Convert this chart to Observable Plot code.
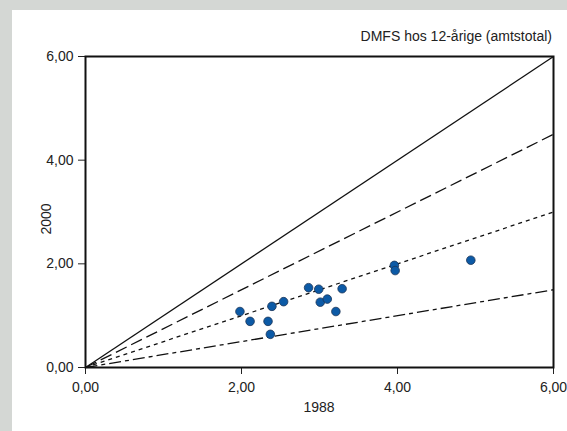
<!DOCTYPE html>
<html>
<head>
<meta charset="utf-8">
<script src="https://cdn.jsdelivr.net/npm/d3@7"></script>
<script src="https://cdn.jsdelivr.net/npm/@observablehq/plot@0.6"></script>
<style>
  html, body { margin: 0; padding: 0; }
  body { width: 567px; height: 431px; background: #d4d7d4; position: relative; overflow: hidden;
         font-family: "Liberation Sans", Arial, sans-serif; }
  #panel { position: absolute; left: 12px; top: 10px; width: 555px; height: 421px; background: #fff; }
  #chart { position: absolute; left: 0; top: 0; }
  .lbl { position: absolute; font-size: 14px; color: #222; white-space: nowrap; line-height: 16px; }
  #title { right: 15px; top: 18px; }
  #xlab { left: 0; width: 614px; text-align: center; top: 389px; }
  #ylab { left: 18px; top: 201px; transform: rotate(-90deg); transform-origin: center; }
</style>
</head>
<body>
<div id="panel">
  <div id="chart"></div>
  <div class="lbl" id="title">DMFS hos 12-årige (amtstotal)</div>
  <div class="lbl" id="xlab">1988</div>
  <div class="lbl" id="ylab">2000</div>
</div>
<script>
// Data (x = 1988, y = 2000)
const x1988 = [1.98, 2.11, 2.34, 2.37, 2.39, 2.54, 2.86, 2.99, 3.01, 3.10, 3.21, 3.29, 3.96, 3.97, 4.94];
const y2000 = [1.08, 0.89, 0.89, 0.64, 1.18, 1.27, 1.54, 1.51, 1.26, 1.32, 1.08, 1.52, 1.97, 1.87, 2.07];
// Reference lines through origin: y = slope * x
const slopes = [1, 0.75, 0.5, 0.25];
const dashes = [null, "12,5", "4,4", "12,4,4,4"];
const tickValues = [0, 2, 4, 6];
const domainMax = 6;

const points = x1988.map((x, i) => ({x, y: y2000[i]}));
const refLines = slopes.map((s, i) => ({x1: 0, y1: 0, x2: domainMax, y2: domainMax * s, dash: dashes[i]}));
const fmt = d => d.toFixed(2).replace(".", ",");

const chart = Plot.plot({
  width: 555,
  height: 421,
  marginLeft: 73,
  marginRight: 14,
  marginTop: 46,
  marginBottom: 64,
  style: {fontFamily: "Liberation Sans, Arial, sans-serif", fontSize: "14px", color: "#222", background: "transparent"},
  x: {domain: [0, domainMax], ticks: tickValues, tickFormat: fmt, label: null},
  y: {domain: [0, domainMax], ticks: tickValues, tickFormat: fmt, label: null},
  marks: [
    Plot.axisX({ticks: tickValues, tickFormat: fmt, tickSize: 7, tickPadding: 8, label: null, fontSize: 14}),
    Plot.axisY({ticks: tickValues, tickFormat: fmt, tickSize: 7, tickPadding: 5, label: null, fontSize: 14}),
    ...refLines.map(l => Plot.link([l], {x1: "x1", y1: "y1", x2: "x2", y2: "y2", stroke: "#111", strokeWidth: 1.3, strokeDasharray: l.dash})),
    Plot.dot(points, {x: "x", y: "y", r: 4.3, fill: "#0c5aa6", stroke: "#1d3557", strokeWidth: 0.8}),
    Plot.frame({stroke: "#111", strokeWidth: 2})
  ]
});
document.getElementById("chart").appendChild(chart);
</script>
</body>
</html>
